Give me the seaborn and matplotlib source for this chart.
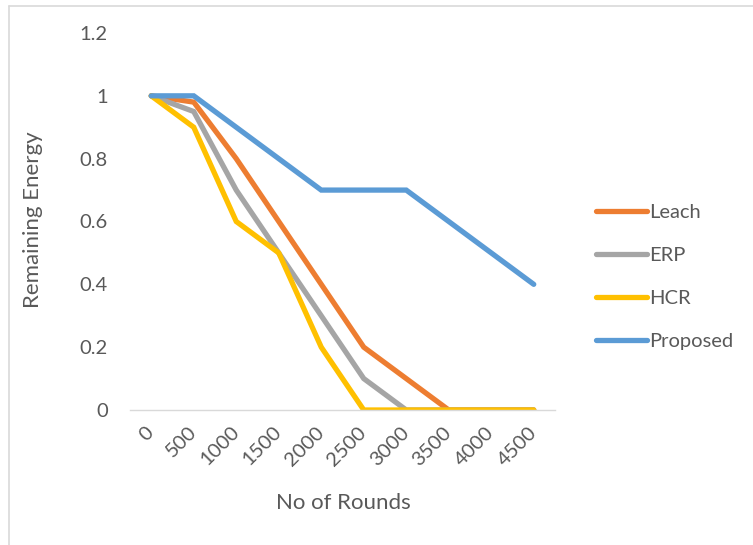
import numpy as np
import pandas as pd
import matplotlib
matplotlib.use("Agg")
import matplotlib.pyplot as plt
import seaborn as sns
from matplotlib.lines import Line2D

rounds = ["0", "500", "1000", "1500", "2000", "2500", "3000", "3500", "4000", "4500"]
leach = [1.0, 0.98, 0.8, 0.6, 0.4, 0.2, 0.1, 0.0, 0.0, 0.0]
erp = [1.0, 0.95, 0.7, 0.5, 0.3, 0.1, 0.0, 0.0, 0.0, 0.0]
hcr = [1.0, 0.9, 0.6, 0.5, 0.2, 0.0, 0.0, 0.0, 0.0, 0.0]
proposed = [1.0, 1.0, 0.9, 0.8, 0.7, 0.7, 0.7, 0.6, 0.5, 0.4]

series = {"Leach": leach, "ERP": erp, "HCR": hcr, "Proposed": proposed}
colors = {"Leach": "#ED7D31", "ERP": "#A5A5A5", "HCR": "#FFC000", "Proposed": "#5B9BD5"}

rows = []
for name, vals in series.items():
    for i, v in enumerate(vals):
        rows.append({"pos": i, "energy": v, "method": name})
df = pd.DataFrame(rows)

sns.set_style("white")
plt.rcParams["font.family"] = ["Lato", "DejaVu Sans"]
text_color = "#595959"

fig = plt.figure(figsize=(7.53, 5.45), dpi=100)
ax = fig.add_axes([130 / 753, 1 - 410 / 545, 425 / 753, 377 / 545])

sns.lineplot(
    data=df, x="pos", y="energy", hue="method",
    hue_order=list(series.keys()), palette=colors,
    linewidth=3.8, ax=ax, legend=False
)
for line in ax.lines:
    line.set_solid_capstyle("round")
    line.set_solid_joinstyle("miter")

ax.set_xlim(-0.5, 9.5)
ax.set_ylim(0, 1.2)
ax.set_yticks([0, 0.2, 0.4, 0.6, 0.8, 1.0, 1.2])
ax.set_yticklabels(["0", "0.2", "0.4", "0.6", "0.8", "1", "1.2"])
ax.set_xticks(range(len(rounds)))
ax.set_xticklabels(rounds, rotation=45, ha="right", va="center",
                   rotation_mode="anchor")
ax.tick_params(axis="both", length=0, labelsize=14.5, labelcolor=text_color)
ax.tick_params(axis="y", pad=16)
ax.tick_params(axis="x", pad=14)

for s in ["top", "right", "left"]:
    ax.spines[s].set_visible(False)
ax.spines["bottom"].set_color("#D9D9D9")
ax.spines["bottom"].set_linewidth(1.0)

ax.set_xlabel("")
ax.set_ylabel("")
fig.text(343 / 753, 1 - 503 / 545, "No of Rounds", fontsize=16, color=text_color,
         ha="center", va="center")
fig.text(33 / 753, 1 - 220 / 545, "Remaining Energy", fontsize=16, color=text_color,
         ha="center", va="center", rotation=90)

handles = [Line2D([0], [0], color=colors[k], lw=3.8, solid_capstyle="round")
           for k in series]
fig.legend(handles, list(series.keys()), loc="center left",
           bbox_to_anchor=(578 / 753, 1 - 277 / 545), frameon=False,
           fontsize=14.5, labelcolor=text_color, handlelength=2.55,
           handletextpad=0.1, labelspacing=1.3)

# outer chart frame (top and left edges visible)
fig.add_artist(Line2D([9 / 753, 1], [1 - 6 / 545, 1 - 6 / 545],
                      color="#D9D9D9", lw=1.2, transform=fig.transFigure))
fig.add_artist(Line2D([9 / 753, 9 / 753], [0, 1 - 6 / 545],
                      color="#D9D9D9", lw=1.2, transform=fig.transFigure))

fig.savefig("out.png", dpi=100, facecolor="white")
